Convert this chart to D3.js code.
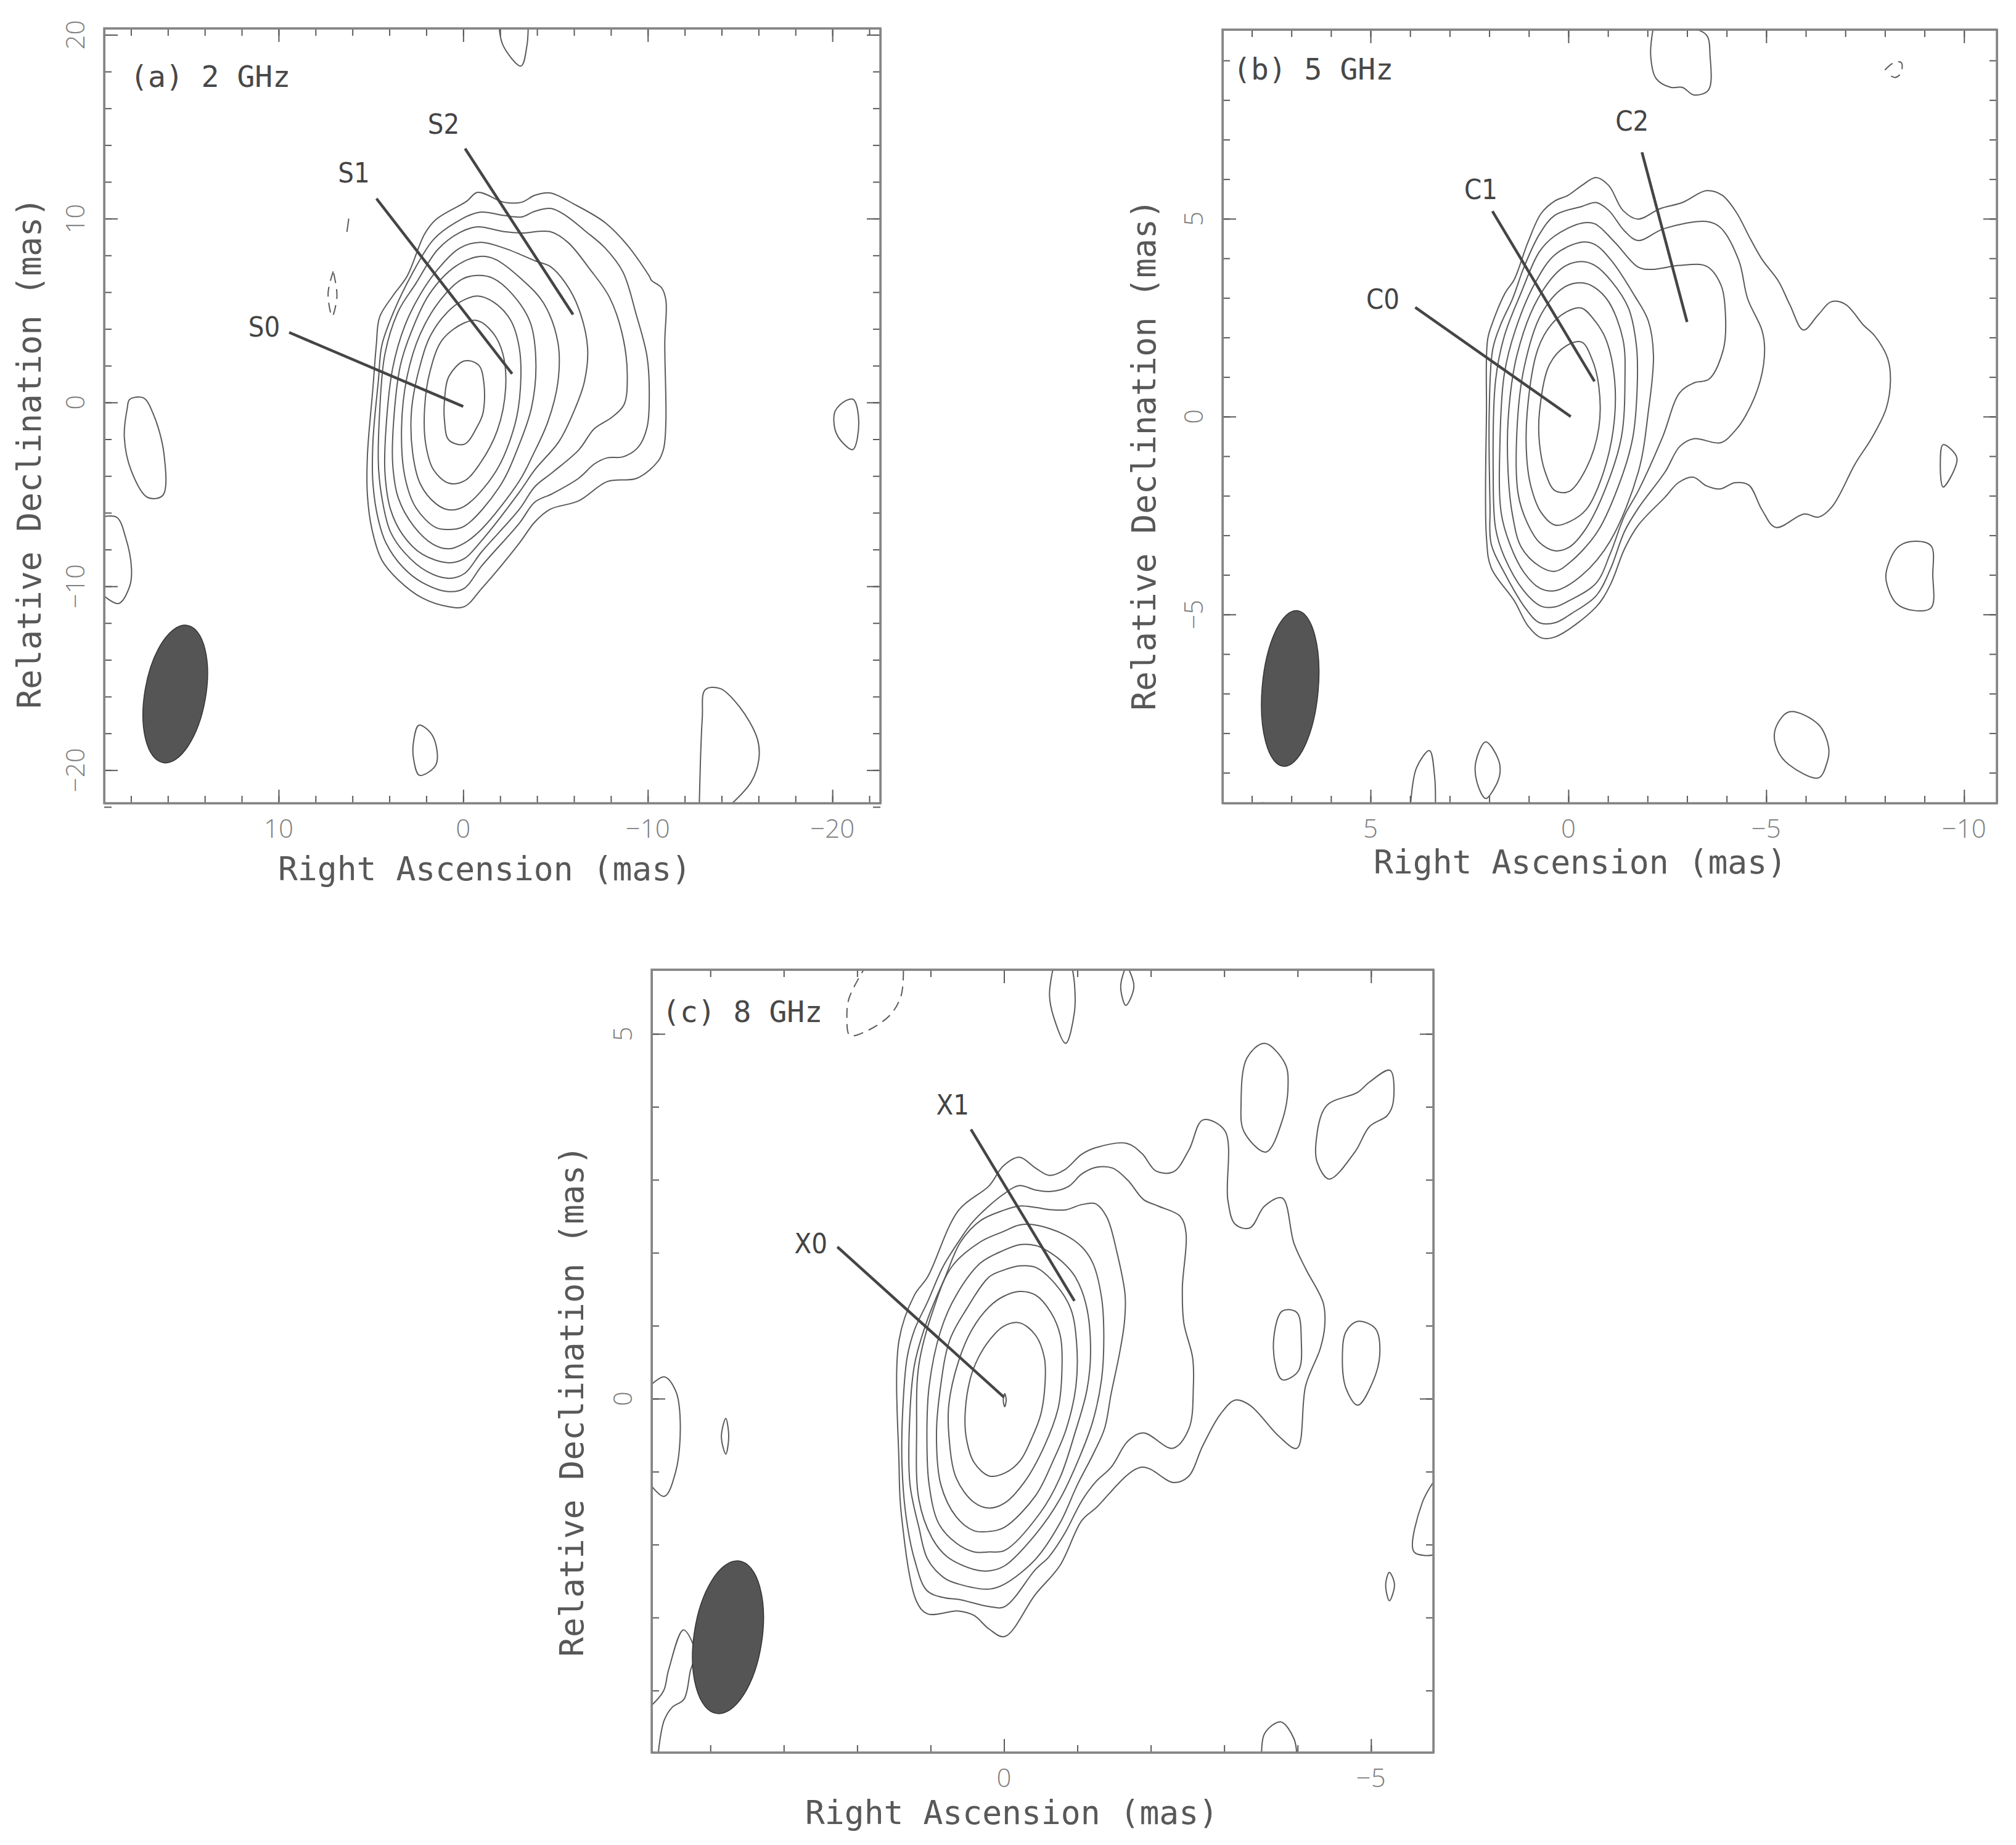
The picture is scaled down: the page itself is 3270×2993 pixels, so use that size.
<!DOCTYPE html>
<html>
<head>
<meta charset="utf-8">
<script src="https://cdn.jsdelivr.net/npm/d3@7"></script>
<style>
  html, body { margin: 0; background: #fff; }
  svg { display: block; }
  .frame { fill: none; stroke: #858585; stroke-width: 3.5; }
  .contour { fill: none; stroke: #5a5a5a; stroke-width: 2; }
  .dashed { stroke-dasharray: 16 10; }
  .pointer { stroke: #454545; stroke-width: 4.5; }
  .beam { fill: #555; stroke: #333; stroke-width: 1.5; }
  .tick line, .domain { stroke: #5a5a5a; stroke-width: 2; }
  .ticklabel { font-family: "Open Sans", sans-serif; font-weight: 300; font-size: 42px; fill: #808080; }
  .axislabel { font-family: "DejaVu Sans Mono", monospace; font-size: 53px; fill: #585858; }
  .tag { font-family: "DejaVu Sans Mono", monospace; font-size: 48px; fill: #484848; }
  .comp { font-family: "DejaVu Sans Condensed", "DejaVu Sans", sans-serif; font-stretch: condensed; font-size: 45px; fill: #444; }
</style>
</head>
<body>
<svg id="fig" width="3270" height="2993"></svg>
<script>
// contours are [RA, Dec] in mas, outermost first

// (a) 2 GHz
const s2Contours = [
  [[-.78,11.43],[-2.21,10.89],[-3.16,10.89],[-3.88,11.27],[-4.71,11.4],[-6.02,10.78],[-7.69,9.78],[-8.89,8.56],[-10.08,6.87],[-10.2,6.64],[-10.74,6.25],[-10.98,5.56],[-10.92,3.26],[-10.98,-1.04],[-10.86,-2.5],[-10.56,-3.19],[-9.42,-4.12],[-7.81,-4.3],[-6.26,-5.35],[-4.71,-5.81],[-3.88,-6.5],[-3.04,-7.65],[-1.01,-10.11],[-.06,-11.11],[.78,-11.11],[2.21,-10.64],[3.52,-9.65],[4.41,-8.57],[4.95,-6.88],[5.19,-5.04],[5.19,-2.89],[4.89,.8],[4.71,3.1],[4.53,4.64],[3.82,5.79],[3.04,6.87],[2.09,9.17],[1.49,9.94],[-.18,10.94]],
  [[-.89,10.35],[-2.21,10.17],[-3.16,10.09],[-3.88,10.4],[-4.77,10.55],[-5.55,10.17],[-6.62,9.32],[-7.69,8.4],[-8.65,7.1],[-9.37,4.79],[-9.96,2.49],[-10.08,.34],[-9.96,-1.35],[-9.48,-2.43],[-8.65,-2.96],[-7.81,-3.01],[-7.1,-3.35],[-6.26,-4.12],[-4.83,-4.96],[-3.88,-5.42],[-3.04,-6.57],[-1.01,-8.88],[-.06,-10.11],[.78,-10.29],[2.21,-9.8],[3.28,-8.95],[4.18,-7.65],[4.59,-6.42],[4.89,-4.42],[4.89,-2.12],[4.59,1.26],[4.41,3.1],[3.76,4.95],[2.8,6.94],[1.61,8.86],[.42,9.78]],
  [[-.78,9.55],[-2.21,9.29],[-3.16,9.22],[-4.71,9.29],[-5.67,8.71],[-6.86,7.25],[-7.93,5.71],[-8.65,3.56],[-8.89,1.41],[-8.71,-.12],[-8.05,-.81],[-7.1,-1.43],[-6.26,-2.58],[-4.83,-3.81],[-3.88,-4.58],[-3.04,-5.81],[-1.01,-8.11],[-.06,-9.31],[.78,-9.57],[1.97,-9.19],[3.16,-8.19],[3.94,-7.04],[4.35,-5.5],[4.59,-3.5],[4.53,-.58],[4.24,2.64],[3.52,4.95],[2.56,6.48],[1.37,8.33],[.18,9.25]],
  [[-.89,8.71],[-2.21,8.4],[-3.88,7.71],[-4.71,7.4],[-5.55,6.48],[-6.26,5.1],[-6.74,2.95],[-6.56,1.11],[-6.02,-.43],[-5.19,-2.12],[-3.88,-3.66],[-3.04,-4.88],[-1.01,-7.5],[-.06,-8.49],[.78,-8.72],[2.21,-8.26],[3.28,-7.19],[3.94,-5.81],[4.24,-3.81],[4.18,-1.35],[3.82,1.87],[3.16,4.18],[2.33,5.87],[1.37,7.25],[.18,8.4]],
  [[-.89,7.94],[-1.73,7.79],[-3.16,6.71],[-4.35,5.41],[-5.13,3.26],[-5.13,1.11],[-4.59,-1.04],[-3.76,-2.89],[-3.04,-4.27],[-1.01,-6.88],[-.06,-7.65],[.78,-7.96],[1.61,-7.73],[2.68,-6.73],[3.52,-5.19],[3.82,-3.35],[3.76,-.89],[3.4,2.03],[2.8,3.87],[1.85,5.87],[.42,7.4]],
  [[-.78,6.91],[-1.61,6.76],[-2.68,5.87],[-3.64,4.33],[-3.94,2.03],[-3.7,-.28],[-3.04,-2.27],[-1.97,-4.58],[-.06,-6.73],[.78,-6.91],[1.49,-6.8],[2.56,-5.73],[3.16,-4.04],[3.34,-1.35],[3.04,1.41],[2.33,3.72],[1.25,5.56],[.06,6.71]],
  [[-.78,5.79],[-1.61,5.48],[-2.56,4.49],[-3.04,2.95],[-3.1,.8],[-2.8,-1.2],[-1.73,-3.81],[-.06,-5.65],[.78,-5.84],[1.49,-5.5],[2.33,-4.42],[2.74,-2.73],[2.8,-.43],[2.33,2.03],[1.73,3.72],[.66,5.1],[-.18,5.64]],
  [[-.78,4.45],[-1.61,3.79],[-2.15,2.64],[-2.3,.8],[-1.85,-1.51],[-.89,-3.35],[-.06,-4.27],[.78,-4.39],[1.61,-3.66],[2.03,-2.27],[2.09,-.28],[1.79,1.72],[1.13,3.41],[-.06,4.33]],
  [[-.06,2.26],[-.84,2.03],[-1.13,.95],[-1.07,-.58],[-.78,-1.27],[-.06,-2.27],[.78,-2.04],[1.01,-1.04],[1.01,.18],[.78,1.41]],
  // islands
  [[18.07,.16],[17.33,.25],[16.79,-.63],[16.21,-2.81],[16.28,-5.06],[17.11,-5.16],[17.97,-3.75],[18.36,-1.88],[18.2,-.31]],
  [[-20.15,-.47],[-20.72,.09],[-21.14,.16],[-21.43,-1.09],[-21.11,-2.56],[-20.56,-2.19],[-20.15,-1.5]],
  [[2.4,-17.56],[1.66,-18.13],[1.47,-19.69],[2.37,-20.28],[2.69,-19.38],[2.69,-18.44]]
];
const s2Open = [
  [[-1.95,20.4],[-2.17,19.4],[-3.13,18.3],[-3.45,19.4],[-3.52,20.4]],
  [[19.6,-6.22],[18.77,-6.25],[18.29,-7.34],[17.97,-9.06],[18.07,-10],[18.68,-10.94],[19.6,-10.41]],
  [[-12.79,-21.88],[-12.95,-17.19],[-13.11,-15.63],[-13.91,-15.56],[-14.97,-16.56],[-15.93,-18.28],[-16.02,-19.38],[-15.61,-20.63],[-14.49,-21.88]],
  [[6.2,10],[6.3,9.28]]
];
const s2Dashed = [
  [[7.04,7.13],[7.32,5.94],[7.1,4.69],[6.84,5.78],[7.04,7.13]]
];

// (b) 5 GHz
const c5Contours = [
  [[-.7,6.04],[-1.02,5.84],[-1.38,5.21],[-1.76,4.99],[-2.31,5.25],[-2.88,5.41],[-3.49,5.71],[-3.88,5.6],[-4.24,5.17],[-4.6,4.49],[-4.89,3.98],[-5.31,3.42],[-5.6,2.82],[-5.94,2.19],[-6.32,2.58],[-6.64,2.9],[-7,2.84],[-7.46,2.31],[-7.75,2.03],[-8.07,1.47],[-8.14,.91],[-8.03,.2],[-7.68,-.52],[-7.25,-1.19],[-6.67,-2.27],[-6.32,-2.54],[-5.96,-2.46],[-5.24,-2.8],[-4.89,-2.35],[-4.56,-1.73],[-4.21,-1.67],[-3.83,-1.83],[-3.49,-1.75],[-3.15,-1.53],[-2.78,-1.67],[-2.45,-2.03],[-1.77,-2.74],[-1.42,-3.34],[-1.06,-4.25],[-.7,-4.81],[.34,-5.57],[.69,-5.59],[1.02,-5.29],[1.37,-4.65],[1.95,-3.82],[2.07,-3.06],[2.07,.12],[2.04,1.95],[1.91,2.39],[1.59,3.14],[1.37,3.46],[1.02,4.41],[.69,5.13],[.34,5.45],[.01,5.59],[-.34,5.84]],
  [[-.7,5.41],[-1.02,5.21],[-1.42,4.69],[-1.76,4.45],[-2.42,4.75],[-3.49,4.93],[-3.85,4.77],[-4.31,3.94],[-4.53,2.98],[-4.89,2.19],[-4.96,1.71],[-4.85,.91],[-4.49,.04],[-4.21,-.36],[-3.85,-.66],[-3.17,-.56],[-2.81,-.76],[-2.45,-1.39],[-1.77,-2.31],[-1.42,-2.9],[-1.06,-3.86],[-.7,-4.53],[-.09,-4.97],[.34,-5.21],[.73,-5.21],[1.05,-4.89],[1.62,-3.94],[1.95,-3.22],[1.98,-2.27],[2,.12],[1.91,1.71],[1.7,2.35],[1.41,2.98],[1.12,3.78],[.73,4.61],[.34,5.09],[-.34,5.31]],
  [[-.34,4.89],[-.67,4.87],[-1.17,4.41],[-1.76,3.78],[-2.1,3.72],[-2.81,3.82],[-3.49,3.8],[-3.85,3.34],[-3.97,2.58],[-3.92,1.71],[-3.56,.95],[-3.17,.85],[-2.81,.6],[-2.38,-.52],[-1.77,-1.87],[-1.42,-2.5],[-1.06,-3.46],[-.7,-4.21],[-.02,-4.65],[.34,-4.81],[.69,-4.79],[1.12,-4.41],[1.62,-3.54],[1.84,-2.82],[1.9,-1.47],[1.84,.91],[1.62,2.03],[1.19,3.14],[.73,4.17],[.34,4.57]],
  [[-.34,4.41],[-.67,4.35],[-1.09,3.94],[-1.67,3.06],[-2.02,2.42],[-2.15,1.55],[-2.02,.12],[-1.77,-1.39],[-1.06,-3.14],[-.34,-4.01],[.34,-4.4],[.73,-4.33],[1.12,-3.94],[1.48,-3.22],[1.7,-2.42],[1.73,-.68],[1.62,1.07],[1.34,2.19],[.84,3.38],[.34,4.09]],
  [[-.34,3.92],[-.67,3.82],[-1.09,3.42],[-1.52,2.74],[-1.72,1.79],[-1.74,.76],[-1.63,-.52],[-1.34,-1.55],[-.74,-2.9],[-.02,-3.7],[.34,-3.91],[.73,-3.78],[1.19,-3.3],[1.41,-2.5],[1.52,-1.47],[1.52,-.04],[1.3,1.55],[.77,2.98],[.12,3.78]],
  [[-.34,3.38],[-.67,3.26],[-1.02,2.9],[-1.38,1.95],[-1.43,.91],[-1.34,-.52],[-.95,-1.79],[-.45,-2.82],[-.02,-3.3],[.34,-3.39],[.73,-3.18],[1.05,-2.66],[1.27,-1.95],[1.3,-.36],[1.12,1.23],[.69,2.58],[.12,3.26]],
  [[-.34,2.74],[-.67,2.42],[-.95,1.95],[-1.17,.91],[-1.13,-.36],[-.81,-1.63],[-.45,-2.35],[-.02,-2.66],[.34,-2.74],[.69,-2.42],[.94,-1.79],[1.05,-1.07],[1.04,.12],[.77,1.71],[.41,2.35],[-.02,2.68]],
  [[-.34,1.88],[-.59,1.47],[-.77,.76],[-.77,-.28],[-.45,-1.31],[-.02,-1.89],[.34,-1.87],[.59,-1.39],[.73,-.68],[.73,.12],[.48,1.31],[.05,1.79]],
  // islands
  [[-9.47,-.71],[-9.82,-1.05],[-9.47,-1.78],[-9.4,-1.22]],
  [[-8.07,-3.78],[-8.36,-3.27],[-8.8,-3.15],[-9.17,-3.27],[-9.21,-3.99],[-9.17,-4.83],[-8.73,-4.9],[-8.29,-4.72],[-8.03,-4.14]],
  [[-5.22,-7.93],[-5.58,-7.46],[-6.32,-7.78],[-6.58,-8.37],[-6.54,-8.73],[-6.32,-9.13],[-5.58,-8.8],[-5.29,-8.44]],
  [[2.09,-8.22],[1.77,-8.66],[1.73,-9.02],[1.87,-9.39],[2.09,-9.65],[2.31,-9.24],[2.34,-8.73]]
];
const c5Open = [
  [[-2.15,9.85],[-2.08,9.13],[-2.22,8.54],[-2.59,8.32],[-2.88,8.32],[-3.17,8.13],[-3.54,8.25],[-3.58,9.13],[-3.49,9.64],[-3.03,9.83],[-2.15,9.85]],
  [[3.99,-9.83],[3.84,-8.88],[3.51,-8.44],[3.38,-9.1],[3.36,-9.83]],
  [[7.87,-9.83],[7.72,-9.76],[7.53,-9.83]]
];
const c5Dashed = [
  [[-8,8.76],[-8.22,8.94],[-8.41,8.95],[-8.41,8.69],[-8.26,8.57],[-8.03,8.69]]
];

// (c) 8 GHz
const x8Contours = [
  [[-.21,3.31],[-.43,3.16],[-.62,3.06],[-.83,3.14],[-1.06,3.35],[-1.25,3.44],[-1.67,3.5],[-1.88,3.36],[-2.07,3.12],[-2.31,3.11],[-2.52,3.41],[-2.71,3.82],[-3.01,3.67],[-3.05,2.72],[-3.15,2.39],[-3.35,2.34],[-3.55,2.64],[-3.79,2.75],[-3.95,2.13],[-4.11,1.78],[-4.35,1.31],[-4.37,1],[-4.31,.69],[-4.11,.18],[-3.99,-.68],[-3.75,-.52],[-3.35,-.09],[-3.15,-.02],[-2.95,-.21],[-2.71,-.64],[-2.51,-1.07],[-2.31,-1.15],[-1.87,-.94],[-1.25,-1.5],[-1.06,-1.67],[-.76,-2.29],[-.43,-2.68],[-.01,-3.26],[.2,-3.16],[.41,-2.97],[.62,-2.91],[1.04,-2.95],[1.19,-2.78],[1.4,-1.57],[1.43,-.89],[1.43,.8],[1.22,1.42],[1.04,1.67],[.62,2.58],[.2,2.92],[.01,3.19]],
  [[-.21,2.92],[-.43,2.86],[-.64,2.84],[-.88,2.91],[-1.06,3.08],[-1.25,3.17],[-1.48,3.16],[-1.69,2.99],[-1.9,2.73],[-2.1,2.64],[-2.4,2.5],[-2.48,2.27],[-2.43,1.52],[-2.45,1.04],[-2.57,.56],[-2.58,.17],[-2.52,-.41],[-2.3,-.68],[-1.9,-.47],[-1.69,-.58],[-1.46,-.94],[-1.25,-1.14],[-1.06,-1.4],[-.82,-1.86],[-.61,-2.17],[-.43,-2.34],[-.01,-2.85],[.2,-2.85],[.62,-2.75],[.81,-2.73],[1.05,-2.63],[1.22,-2.2],[1.34,-1.57],[1.39,-.89],[1.38,-.17],[1.32,.56],[1.22,.94],[1.04,1.33],[.83,1.81],[.62,2.15],[.41,2.44],[.01,2.8]],
  [[-.21,2.64],[-.43,2.62],[-.64,2.59],[-.85,2.59],[-1.06,2.66],[-1.25,2.67],[-1.4,2.49],[-1.54,2],[-1.65,1.42],[-1.64,1.04],[-1.57,.6],[-1.46,.07],[-1.37,-.41],[-1.22,-.75],[-1,-1.18],[-.76,-1.71],[-.43,-2.2],[-.01,-2.54],[.2,-2.61],[.62,-2.54],[.81,-2.46],[1.04,-2.2],[1.16,-1.76],[1.28,-1.18],[1.29,-.41],[1.22,.46],[1.04,1.09],[.8,1.67],[.59,2.15],[.32,2.44],[.01,2.58]],
  [[-.21,2.38],[-.43,2.38],[-.82,2.25],[-1.06,2.08],[-1.21,1.86],[-1.33,1.38],[-1.36,.85],[-1.33,.27],[-1.21,-.31],[-1.03,-.8],[-.76,-1.38],[-.43,-1.86],[-.01,-2.29],[.2,-2.36],[.41,-2.34],[.77,-2.17],[.98,-1.91],[1.16,-1.38],[1.19,-.41],[1.16,.46],[.96,1.23],[.71,1.81],[.32,2.15],[.01,2.29]],
  [[-.21,2.11],[-.43,2.1],[-.55,2.05],[-.79,1.88],[-.97,1.67],[-1.12,1.28],[-1.18,.65],[-1.13,.12],[-.97,-.46],[-.76,-1.09],[-.49,-1.57],[-.01,-2.08],[.2,-2.1],[.41,-2.1],[.65,-1.98],[.89,-1.71],[1.02,-1.18],[1.05,-.56],[1.02,.17],[.86,.94],[.65,1.42],[.32,1.86],[.01,2.03]],
  [[-.21,1.82],[-.43,1.8],[-.7,1.57],[-.91,1.23],[-.99,.75],[-.98,.17],[-.85,-.41],[-.67,-.85],[-.43,-1.33],[-.01,-1.76],[.2,-1.82],[.41,-1.81],[.65,-1.62],[.86,-1.18],[.92,-.51],[.87,.12],[.74,.8],[.51,1.23],[.2,1.67],[.01,1.76]],
  [[-.21,1.47],[-.43,1.42],[-.64,1.18],[-.77,.85],[-.79,.41],[-.74,-.12],[-.55,-.65],[-.28,-1.14],[-.01,-1.43],[.2,-1.5],[.41,-1.42],[.65,-1.09],[.75,-.51],[.75,-.07],[.62,.51],[.44,.94],[.2,1.26],[.01,1.4]],
  [[-.21,1.04],[-.43,.87],[-.55,.56],[-.56,.22],[-.5,-.22],[-.37,-.56],[-.22,-.85],[-.01,-1.02],[.2,-1.06],[.41,-.87],[.51,-.56],[.53,-.22],[.46,.27],[.35,.56],[.2,.8],[.01,.99]],
  [[-.01,.07],[-.03,-.02],[-.01,-.11],[.01,-.02]],
  // islands
  [[-3.55,4.87],[-3.83,4.59],[-3.87,4.28],[-3.79,3.81],[-3.57,3.38],[-3.27,3.66],[-3.23,4.05],[-3.31,4.67]],
  [[-5.26,4.5],[-5.3,4.05],[-5.22,3.88],[-4.98,3.73],[-4.78,3.38],[-4.43,3.01],[-4.27,3.23],[-4.25,3.5],[-4.39,4.01],[-4.82,4.2],[-4.98,4.34]],
  [[-3.79,1.2],[-3.99,1.18],[-4.05,.8],[-4.01,.38],[-3.79,.26],[-3.67,.69]],
  [[-4.82,1.06],[-5.06,.96],[-5.12,.61],[-5.02,.22],[-4.82,-.09],[-4.66,.14],[-4.61,.57],[-4.66,.92]],
  [[-5.25,-2.38],[-5.32,-2.55],[-5.25,-2.77],[-5.2,-2.55]],
  [[3.79,-.27],[3.75,-.52],[3.79,-.76],[3.85,-.52]]
];
const x8Open = [
  [[-.68,5.95],[-.62,5.53],[-.68,5.22],[-.84,4.87],[-.96,5.3],[-.96,5.69],[-.92,5.95]],
  [[-1.67,5.95],[-1.59,5.65],[-1.66,5.39],[-1.77,5.65],[-1.67,5.95]],
  [[-5.9,-1.07],[-5.7,-1.42],[-5.58,-2.09],[-5.74,-2.15],[-5.9,-2.13]],
  [[-3.51,-4.9],[-3.55,-4.59],[-3.77,-4.43],[-3.95,-4.66],[-3.99,-4.9]],
  [[4.9,.1],[4.63,.3],[4.47,.1],[4.41,-.33],[4.47,-.99],[4.63,-1.34],[4.9,-1.07]],
  [[4.85,-4.25],[4.64,-4.01],[4.57,-3.72],[4.37,-3.17],[4.25,-3.33],[4.21,-3.53],[4.27,-3.72],[4.36,-4.12],[4.52,-4.23],[4.63,-4.41],[4.7,-4.77],[4.71,-4.9]]
];
const x8Dashed = [
  [[1.87,5.95],[2.11,5.49],[2.14,5.22],[2.1,4.98],[1.87,5.04],[1.55,5.26],[1.4,5.53],[1.37,5.95]]
];

// tick values
const s2TicksX = [10, 0, -10, -20], s2TicksY = [20, 10, 0, -10, -20];
const s2MinorX = d3.range(18, -24, -2), s2MinorY = d3.range(20, -24, -2);
const c5TicksX = [5, 0, -5, -10], c5TicksY = [5, 0, -5];
const c5MinorX = d3.range(8, -11, -1), c5MinorY = d3.range(9, -10, -1);
const x8TicksX = [0, -5], x8TicksY = [5, 0];
const x8MinorX = d3.range(4, -6, -1), x8MinorY = d3.range(5, -5, -1);

// labelled components: name, label position, pointer start, pointer end (mas)
const s2Comps = [["S0",10.78,4.13,9.43,3.81,0,-.22],["S1",5.92,12.5,4.7,11.09,-2.65,1.56],["S2",1.06,15.16,-.1,13.81,-5.95,4.78]];
const c5Comps = [["C0",4.69,2.97,3.87,2.76,-.06,0],["C1",2.21,5.74,1.92,5.19,-.66,.89],["C2",-1.61,7.48,-1.86,6.68,-3,2.39]];
const x8Comps = [["X0",2.63,2.13,2.27,2.08,0,.02],["X1",.7,4.03,.45,3.69,-.96,1.34]];

// restoring beams: RA, Dec, semi-major, semi-minor (mas), tilt (deg)
const s2Beam = [15.6, -15.86, 3.78, 1.65, 10];
const c5Beam = [7.03, -6.87, 1.975, .71, 5];
const x8Beam = [3.76, -3.27, 1.05, .464, 8.5];

const panels = [
  { id: "a", tag: "(a) 2 GHz", box: [169, 46, 1428, 1303], ra: [19.45, -22.6], dec: [20.35, -21.8],
    contours: s2Contours, open: s2Open, dashed: s2Dashed, comps: s2Comps, beam: s2Beam,
    ticksX: s2TicksX, ticksY: s2TicksY, minorX: s2MinorX, minorY: s2MinorY,
    tagAt: [42, 79], xLabel: [786, 1410], yLabel: [48, 735] },
  { id: "b", tag: "(b) 5 GHz", box: [1983, 48, 3239, 1303], ra: [8.74, -10.83], dec: [9.78, -9.77],
    contours: c5Contours, open: c5Open, dashed: c5Dashed, comps: c5Comps, beam: c5Beam,
    ticksX: c5TicksX, ticksY: c5TicksY, minorX: c5MinorX, minorY: c5MinorY,
    tagAt: [17, 65], xLabel: [2563, 1399], yLabel: [1856, 738] },
  { id: "c", tag: "(c) 8 GHz", box: [1057, 1573, 2325, 2843], ra: [4.8, -5.85], dec: [5.88, -4.85],
    contours: x8Contours, open: x8Open, dashed: x8Dashed, comps: x8Comps, beam: x8Beam,
    ticksX: x8TicksX, ticksY: x8TicksY, minorX: x8MinorX, minorY: x8MinorY,
    tagAt: [17, 69], xLabel: [1641, 2941], yLabel: [928, 2273] }
];

const svg = d3.select("#fig");

function drawPanel(p) {
  const [x0, y0, x1, y1] = p.box;
  const x = d3.scaleLinear().domain(p.ra).range([x0, x1]);
  const y = d3.scaleLinear().domain(p.dec).range([y0, y1]);
  const g = svg.append("g").attr("id", "panel-" + p.id);

  g.append("clipPath").attr("id", "clip-" + p.id)
    .append("rect").attr("x", x0).attr("y", y0).attr("width", x1 - x0).attr("height", y1 - y0);

  const plot = g.append("g").attr("clip-path", `url(#clip-${p.id})`);
  const closed = d3.line().x(d => x(d[0])).y(d => y(d[1])).curve(d3.curveCatmullRomClosed.alpha(0.5));
  const open = d3.line().x(d => x(d[0])).y(d => y(d[1])).curve(d3.curveCatmullRom.alpha(0.5));

  plot.selectAll("path.closed").data(p.contours).enter().append("path")
    .attr("class", "closed contour").attr("d", closed);
  plot.selectAll("path.open").data(p.open).enter().append("path")
    .attr("class", "open contour").attr("d", open);
  plot.selectAll("path.neg").data(p.dashed).enter().append("path")
    .attr("class", "neg contour dashed").attr("d", open);

  // beam goes over the contours, tilted towards smaller RA
  const [bra, bdec, bmaj, bmin, bang] = p.beam;
  const pxPerMas = (x1 - x0) / (p.ra[0] - p.ra[1]);
  plot.append("ellipse").attr("class", "beam")
    .attr("rx", bmin * pxPerMas).attr("ry", bmaj * pxPerMas)
    .attr("transform", `translate(${x(bra)},${y(bdec)}) rotate(${bang})`);

  // ticks on all four sides, pointing in
  const sides = [
    [d3.axisBottom(x), p.minorX, p.ticksX, `translate(0,${y1})`],
    [d3.axisTop(x), p.minorX, p.ticksX, `translate(0,${y0})`],
    [d3.axisLeft(y), p.minorY, p.ticksY, `translate(${x0},0)`],
    [d3.axisRight(y), p.minorY, p.ticksY, `translate(${x1},0)`]
  ];
  sides.forEach(([axis, minor, major, tr]) => {
    g.append("g").attr("transform", tr)
      .call(axis.tickValues(minor).tickSize(-12).tickSizeOuter(0).tickFormat(""));
    g.append("g").attr("transform", tr)
      .call(axis.tickValues(major).tickSize(-22).tickSizeOuter(0).tickFormat(""));
  });
  g.selectAll(".tick text").remove();

  g.append("rect").attr("class", "frame")
    .attr("x", x0).attr("y", y0).attr("width", x1 - x0).attr("height", y1 - y0);

  // tick labels: PGPLOT style, y ones rotated
  p.ticksX.forEach(v => {
    g.append("text").attr("class", "ticklabel").attr("x", x(v)).attr("y", y1 + 56)
      .attr("text-anchor", "middle").text(d3.format("d")(v));
  });
  p.ticksY.forEach(v => {
    g.append("text").attr("class", "ticklabel")
      .attr("transform", `translate(${x0 - 32},${y(v)}) rotate(-90)`)
      .attr("text-anchor", "middle").text(d3.format("d")(v));
  });

  g.append("text").attr("class", "axislabel").attr("text-anchor", "middle")
    .attr("x", p.xLabel[0]).attr("y", p.xLabel[1] + 18).text("Right Ascension (mas)");
  g.append("text").attr("class", "axislabel").attr("text-anchor", "middle")
    .attr("transform", `translate(${p.yLabel[0] + 18},${p.yLabel[1]}) rotate(-90)`)
    .text("Relative Declination (mas)");
  g.append("text").attr("class", "tag")
    .attr("x", x0 + p.tagAt[0]).attr("y", y0 + p.tagAt[1] + 16).text(p.tag);

  p.comps.forEach(c => {
    g.append("line").attr("class", "pointer")
      .attr("x1", x(c[3])).attr("y1", y(c[4])).attr("x2", x(c[5])).attr("y2", y(c[6]));
    g.append("text").attr("class", "comp").attr("text-anchor", "middle")
      .attr("x", x(c[1])).attr("y", y(c[2]) + 16).text(c[0]);
  });
}

panels.forEach(drawPanel);
</script>
</body>
</html>
